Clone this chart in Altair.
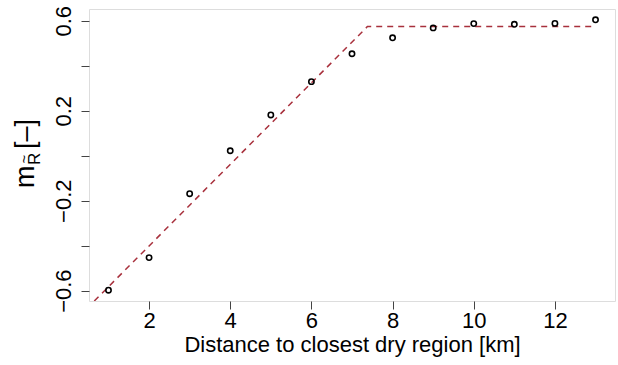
import altair as alt
import pandas as pd

# data
distance_km = [1, 2, 3, 4, 5, 6, 7, 8, 9, 10, 11, 12, 13]
m_r = [-0.598, -0.453, -0.169, 0.022, 0.181, 0.329, 0.453, 0.524, 0.568, 0.587, 0.584, 0.588, 0.604]

fit_x = [0.65, 7.38, 13.0]
fit_y = [-0.646, 0.574, 0.574]

y_ticks = [-0.6, -0.4, -0.2, 0.0, 0.2, 0.4, 0.6]
x_ticks = [2, 4, 6, 8, 10, 12]

pts = pd.DataFrame({"x": distance_km, "y": m_r})
fit = pd.DataFrame({"x": fit_x, "y": fit_y})

X_DOMAIN = [0.52, 13.48]
Y_DOMAIN = [-0.646, 0.652]
FONT = "Liberation Sans"

xs = alt.Scale(domain=X_DOMAIN, nice=False, zero=False)
ys = alt.Scale(domain=Y_DOMAIN, nice=False, zero=False)

x_axis = alt.Axis(
    values=x_ticks, title="Distance to closest dry region [km]", grid=False,
    domain=False, tickColor="#444", tickSize=8, tickWidth=1,
    labelFont=FONT, labelFontSize=22, labelColor="black", labelPadding=1,
    titleFont=FONT, titleFontSize=22, titleFontWeight="normal", titleColor="black",
    titlePadding=3,
)
y_axis = alt.Axis(
    values=y_ticks, title=None, grid=False, domain=False,
    tickColor="#444", tickSize=8, tickWidth=1,
    labelFont=FONT, labelFontSize=22, labelColor="black",
    labelAngle=270, labelAlign="center", labelBaseline="bottom", labelPadding=6,
    format=".1f",
    labelExpr="(datum.value < -0.5 || (datum.value > -0.3 && datum.value < -0.1) || (datum.value > 0.1 && datum.value < 0.3) || datum.value > 0.5) ? datum.label : ''",
)

line = alt.Chart(fit).mark_line(
    color="#a8303c", strokeWidth=1.5, strokeDash=[6, 5], clip=True
).encode(
    x=alt.X("x:Q", scale=xs, axis=x_axis),
    y=alt.Y("y:Q", scale=ys, axis=y_axis),
)

points = alt.Chart(pts).mark_point(
    shape="circle", filled=False, color="black", strokeWidth=1.6, size=28, opacity=1
).encode(
    x=alt.X("x:Q", scale=xs),
    y=alt.Y("y:Q", scale=ys),
)

one = pd.DataFrame({"a": [0]})
# y-axis title pieces: m, subscript R with tilde, [-]
t_m = alt.Chart(one).mark_text(
    text="m", font=FONT, fontSize=27, angle=270, align="left", baseline="alphabetic", color="black"
).encode(x=alt.value(-55), y=alt.value(179))
t_r = alt.Chart(one).mark_text(
    text="R", font=FONT, fontSize=17, angle=270, align="left", baseline="alphabetic", color="black"
).encode(x=alt.value(-49), y=alt.value(156))
t_t = alt.Chart(one).mark_text(
    text="~", font=FONT, fontSize=15, angle=270, align="center", baseline="middle", color="black"
).encode(x=alt.value(-65), y=alt.value(150))
t_b = alt.Chart(one).mark_text(
    text="[\u2013]", font=FONT, fontSize=27, angle=270, align="left", baseline="alphabetic", color="black"
).encode(x=alt.value(-55), y=alt.value(140))

chart = alt.layer(line, points, t_m, t_r, t_t, t_b).properties(
    width=526, height=292,
    autosize=alt.AutoSizeParams(type="none"),
    padding={"left": 89, "top": 9, "right": 3, "bottom": 64},
).configure_view(stroke="#444", strokeWidth=1.2).configure(background="white")

chart.save("out.html", embed_options={"renderer": "svg", "actions": False})
